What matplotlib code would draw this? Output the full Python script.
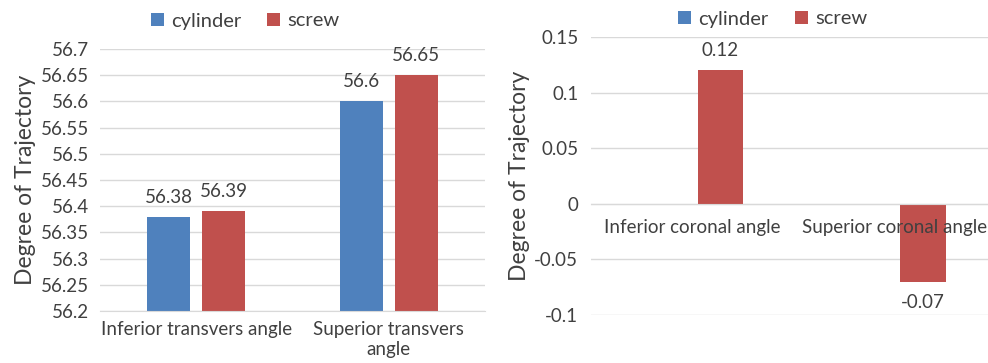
import numpy as np
import matplotlib.pyplot as plt

plt.rcParams['font.family'] = ['Lato', 'DejaVu Sans']

# transverse angles
trans_cats = ["Inferior transvers angle", "Superior transvers\nangle"]
trans_cyl = [56.38, 56.6]
trans_screw = [56.39, 56.65]
trans_ticks = [56.2, 56.25, 56.3, 56.35, 56.4, 56.45, 56.5, 56.55, 56.6, 56.65, 56.7]
trans_ticklabels = ["56.2", "56.25", "56.3", "56.35", "56.4", "56.45", "56.5",
                    "56.55", "56.6", "56.65", "56.7"]

# coronal angles
cor_cats = ["Inferior coronal angle", "Superior coronal angle"]
cor_cyl = [0, 0]
cor_screw = [0.12, -0.07]
cor_ticks = [-0.1, -0.05, 0, 0.05, 0.1, 0.15]
cor_ticklabels = ["-0.1", "-0.05", "0", "0.05", "0.1", "0.15"]

blue = "#4F81BD"
red = "#C0504D"
grid = "#D9D9D9"
txt = "#404040"
fs = 13.5

fig = plt.figure(figsize=(9.88, 3.63), dpi=100)
ax1 = fig.add_axes([0.101, 0.143, 0.39, 0.722])
ax2 = fig.add_axes([0.598, 0.132, 0.41, 0.766])


def style(ax):
    for s in ["top", "right", "left"]:
        ax.spines[s].set_visible(False)
    ax.spines["bottom"].set_color(grid)
    ax.grid(axis="y", color=grid, linewidth=1)
    ax.set_axisbelow(True)
    ax.tick_params(length=0, labelsize=fs, labelcolor=txt)
    ax.set_ylabel("Degree of Trajectory", fontsize=16.5, color=txt)


def legend(ax, xc, yc):
    ax.legend(loc="center", bbox_to_anchor=(xc, yc), bbox_transform=fig.transFigure,
              ncol=2, frameon=False, fontsize=14.5, handlelength=0.65,
              handleheight=0.65, columnspacing=1.3, handletextpad=0.35,
              labelcolor=txt, borderpad=0)


# left panel
x = np.arange(len(trans_cats))
w = 0.225
b1 = ax1.bar(x - 0.143, trans_cyl, w, color=blue, label="cylinder")
b2 = ax1.bar(x + 0.143, trans_screw, w, color=red, label="screw")
ax1.set_xlim(-0.5, 1.5)
ax1.set_ylim(56.2, 56.7)
ax1.set_yticks(trans_ticks)
ax1.set_yticklabels(trans_ticklabels)
ax1.set_xticks(x)
ax1.set_xticklabels(trans_cats, linespacing=1.2)
style(ax1)
ax1.tick_params(axis="x", pad=7)
ax1.tick_params(axis="y", pad=8)
ax1.yaxis.set_label_coords(-0.165, 0.5)
for bars, vals in [(b1, trans_cyl), (b2, trans_screw)]:
    for bar, v in zip(bars, vals):
        ax1.annotate(f"{v:g}", (bar.get_x() + bar.get_width() / 2, v),
                     xytext=(0, 8), textcoords="offset points",
                     ha="center", va="bottom", fontsize=fs, color=txt)
legend(ax1, 0.248, 1 - 21 / 363)

# right panel
x = np.arange(len(cor_cats))
c1 = ax2.bar(x - 0.14, cor_cyl, w, color=blue, label="cylinder")
c2 = ax2.bar(x + 0.14, cor_screw, w, color=red, label="screw")
ax2.set_xlim(-0.5, 1.5)
ax2.set_ylim(-0.1, 0.15)
ax2.set_yticks(cor_ticks)
ax2.set_yticklabels(cor_ticklabels)
ax2.set_xticks(x)
ax2.set_xticklabels([])
ax2.spines["bottom"].set_position(("data", 0))
style(ax2)
ax2.tick_params(axis="y", pad=9)
ax2.yaxis.set_label_coords(-0.15, 0.5)
# category names sit on the zero line, drawn over the bars
for xi, name in zip(x, cor_cats):
    ax2.annotate(name, (xi, 0), xytext=(0, -11), textcoords="offset points",
                 ha="center", va="top", fontsize=fs, color=txt, zorder=5)
for bar, v in zip(c2, cor_screw):
    ax2.annotate(f"{v:g}", (bar.get_x() + bar.get_width() / 2, v),
                 xytext=(0, 8 if v > 0 else -9), textcoords="offset points",
                 ha="center", va="bottom" if v > 0 else "top",
                 fontsize=fs, color=txt)
legend(ax2, 0.782, 1 - 19 / 363)

fig.savefig("out.png", dpi=100)
